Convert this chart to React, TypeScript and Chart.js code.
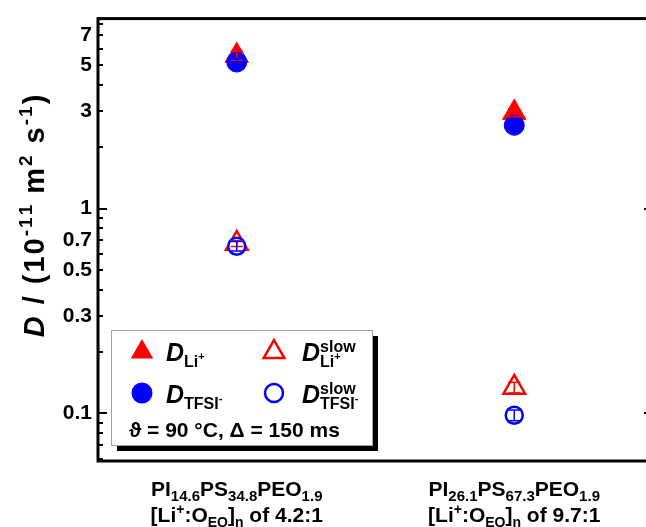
import React, { useEffect, useRef } from 'react';
import { Chart, registerables } from 'chart.js';

Chart.register(...registerables);

const FONT = '"Liberation Sans", Arial, Helvetica, sans-serif';
const RED = '#ff0000';
const BLUE = '#0000ff';

// Samples along the x axis
const categories = ['PI14.6PS34.8PEO1.9', 'PI26.1PS67.3PEO1.9'];

// Diffusion coefficients in 10^-11 m^2 s^-1 and their uncertainties
const dLiFast = [5.58, 2.94];
const dLiFastErr = [0.28, 0.13];
const dTfsiFast = [5.19, 2.55];
const dTfsiFastErr = [0.2, 0.1];
const dLiSlow = [0.675, 0.134];
const dLiSlowErr = [0.022, 0.008];
const dTfsiSlow = [0.655, 0.098];
const dTfsiSlowErr = [0.035, 0.006];

// Logarithmic y axis
const yMin = 0.0586;
const yMax = 8.46;
const yTickValues = [0.06, 0.07, 0.08, 0.09, 0.1, 0.2, 0.3, 0.4, 0.5, 0.6, 0.7, 0.8, 0.9, 1, 2, 3, 4, 5, 6, 7, 8];
const yMajorTicks = [0.1, 1];
const yLabeledTicks = [0.1, 0.3, 0.5, 0.7, 1, 3, 5, 7];
const yTickLabels = ['0.1', '0.3', '0.5', '0.7', '1', '3', '5', '7'];

type Seg = {
  t: string;
  size: number;
  dy?: number;
  italic?: boolean;
  mark?: boolean; // remember the pen position before this run
  back?: boolean; // return the pen to the remembered position
};

// Two-line sample labels below the axis (with subscripts / superscripts)
const xLabelLine1: Seg[][] = [
  [
    { t: 'PI', size: 21 }, { t: '14.6', size: 15, dy: 5 },
    { t: 'PS', size: 21 }, { t: '34.8', size: 15, dy: 5 },
    { t: 'PEO', size: 21 }, { t: '1.9', size: 15, dy: 5 },
  ],
  [
    { t: 'PI', size: 21 }, { t: '26.1', size: 15, dy: 5 },
    { t: 'PS', size: 21 }, { t: '67.3', size: 15, dy: 5 },
    { t: 'PEO', size: 21 }, { t: '1.9', size: 15, dy: 5 },
  ],
];
const xLabelLine2: Seg[][] = [
  [
    { t: '[Li', size: 21 }, { t: '+', size: 14, dy: -8 }, { t: ':O', size: 21 },
    { t: 'EO', size: 14, dy: 5 }, { t: ']', size: 21 }, { t: 'n', size: 14, dy: 5 },
    { t: ' of 4.2:1', size: 21 },
  ],
  [
    { t: '[Li', size: 21 }, { t: '+', size: 14, dy: -8 }, { t: ':O', size: 21 },
    { t: 'EO', size: 14, dy: 5 }, { t: ']', size: 21 }, { t: 'n', size: 14, dy: 5 },
    { t: ' of 9.7:1', size: 21 },
  ],
];

const yTitle: Seg[] = [
  { t: 'D', size: 29, italic: true },
  { t: ' / (10', size: 29 },
  { t: '-11', size: 19, dy: -12 },
  { t: ' m', size: 29 },
  { t: '2', size: 19, dy: -12 },
  { t: ' s', size: 29 },
  { t: '-1', size: 19, dy: -12 },
  { t: ')', size: 29 },
];

const legendLiFast: Seg[] = [
  { t: 'D', size: 25, italic: true },
  { t: 'Li', size: 16, dy: 6 },
  { t: '+', size: 11, dy: -1 },
];
const legendTfsiFast: Seg[] = [
  { t: 'D', size: 25, italic: true },
  { t: 'TFSI', size: 16, dy: 6 },
  { t: '-', size: 11, dy: -1 },
];
const legendLiSlow: Seg[] = [
  { t: 'D', size: 25, italic: true },
  { t: 'slow', size: 16, dy: -9, mark: true },
  { t: 'Li', size: 16, dy: 6, back: true },
  { t: '+', size: 11, dy: -1 },
];
const legendTfsiSlow: Seg[] = [
  { t: 'D', size: 25, italic: true },
  { t: 'slow', size: 16, dy: -9, mark: true },
  { t: 'TFSI', size: 16, dy: 6, back: true },
  { t: '-', size: 11, dy: -1 },
];
const legendConditions = 'ϑ = 90 °C, Δ = 150 ms';

function segFont(s: Seg) {
  return `${s.italic ? 'italic ' : ''}bold ${s.size}px ${FONT}`;
}

// width of a run, with optional extra tracking after every character
function runWidth(ctx: CanvasRenderingContext2D, t: string, ls: number) {
  return ctx.measureText(t).width + ls * t.length;
}

function layoutRich(ctx: CanvasRenderingContext2D, segs: Seg[], ls: number) {
  let x = 0;
  let saved = 0;
  let maxX = 0;
  const pos: number[] = [];
  for (const s of segs) {
    if (s.mark) saved = x;
    if (s.back) x = saved;
    ctx.font = segFont(s);
    pos.push(x);
    x += runWidth(ctx, s.t, ls);
    maxX = Math.max(maxX, x);
  }
  return { pos, width: maxX - ls };
}

function drawRich(
  ctx: CanvasRenderingContext2D,
  segs: Seg[],
  x: number,
  y: number,
  align: 'left' | 'center',
  ls = 0,
) {
  const { pos, width } = layoutRich(ctx, segs, ls);
  const x0 = align === 'center' ? x - width / 2 : x;
  ctx.textAlign = 'left';
  ctx.textBaseline = 'alphabetic';
  segs.forEach((s, i) => {
    ctx.font = segFont(s);
    if (ls === 0) {
      ctx.fillText(s.t, x0 + pos[i], y + (s.dy || 0));
      return;
    }
    let cx = x0 + pos[i];
    for (const ch of s.t) {
      ctx.fillText(ch, cx, y + (s.dy || 0));
      cx += ctx.measureText(ch).width + ls;
    }
  });
}

function drawTriangle(ctx: CanvasRenderingContext2D, x: number, y: number, r: number) {
  ctx.beginPath();
  ctx.moveTo(x, y - r);
  ctx.lineTo(x + Math.sin((2 * Math.PI) / 3) * r, y + 0.5 * r);
  ctx.lineTo(x - Math.sin((2 * Math.PI) / 3) * r, y + 0.5 * r);
  ctx.closePath();
}

const errorBarsPlugin = {
  id: 'errorBars',
  afterDatasetsDraw(chart: any) {
    const ctx: CanvasRenderingContext2D = chart.ctx;
    const yScale = chart.scales.y;
    ctx.save();
    chart.data.datasets.forEach((ds: any, i: number) => {
      if (!ds.errors) return;
      const meta = chart.getDatasetMeta(i);
      meta.data.forEach((el: any, j: number) => {
        const v = ds.data[j];
        const e = ds.errors[j];
        const yUp = yScale.getPixelForValue(v + e);
        const yLo = yScale.getPixelForValue(v - e);
        ctx.strokeStyle = ds.pointBorderColor;
        ctx.lineWidth = 1.5;
        ctx.beginPath();
        ctx.moveTo(el.x, yUp);
        ctx.lineTo(el.x, yLo);
        ctx.moveTo(el.x - 6, yUp);
        ctx.lineTo(el.x + 6, yUp);
        ctx.moveTo(el.x - 6, yLo);
        ctx.lineTo(el.x + 6, yLo);
        ctx.stroke();
      });
    });
    ctx.restore();
  },
};

const framePlugin = {
  id: 'frameAndLabels',
  afterDraw(chart: any) {
    const ctx: CanvasRenderingContext2D = chart.ctx;
    const { left, right, top, bottom } = chart.chartArea;
    const yScale = chart.scales.y;
    const xScale = chart.scales.x;
    ctx.save();

    // inward ticks on both vertical axes
    ctx.strokeStyle = '#000';
    ctx.lineWidth = 2;
    ctx.beginPath();
    for (const v of yTickValues) {
      const py = Math.round(yScale.getPixelForValue(v));
      const len = yMajorTicks.includes(v) ? 9 : 5;
      ctx.moveTo(left, py);
      ctx.lineTo(left + len, py);
      ctx.moveTo(right, py);
      ctx.lineTo(right - len, py);
    }
    ctx.stroke();

    // plot frame
    ctx.lineWidth = 3;
    ctx.strokeRect(left, top, right - left, bottom - top);

    // sample labels
    ctx.fillStyle = '#000';
    categories.forEach((_, i) => {
      const px = xScale.getPixelForValue(i);
      drawRich(ctx, xLabelLine1[i], px, 496, 'center');
      drawRich(ctx, xLabelLine2[i], px, 522, 'center');
    });

    // y axis title
    ctx.save();
    ctx.translate(44, 216);
    ctx.rotate(-Math.PI / 2);
    drawRich(ctx, yTitle, 0, 0, 'center', 2);
    ctx.restore();

    // legend box with a drop shadow
    const bx = 111, by = 330, bw = 261, bh = 115;
    ctx.fillStyle = '#000';
    ctx.fillRect(bx + 6, by + 6, bw, bh);
    ctx.fillStyle = '#fff';
    ctx.fillRect(bx, by, bw, bh);
    ctx.strokeStyle = '#a0a0a0';
    ctx.lineWidth = 1;
    ctx.strokeRect(bx + 0.5, by + 0.5, bw, bh);

    // legend symbols
    ctx.fillStyle = RED;
    drawTriangle(ctx, 142, 352, 13);
    ctx.fill();

    ctx.strokeStyle = RED;
    ctx.lineWidth = 2.5;
    drawTriangle(ctx, 274, 352, 12);
    ctx.stroke();

    ctx.fillStyle = BLUE;
    ctx.beginPath();
    ctx.arc(142, 393, 10.5, 0, Math.PI * 2);
    ctx.fill();

    ctx.strokeStyle = BLUE;
    ctx.lineWidth = 2.5;
    ctx.beginPath();
    ctx.arc(274, 393, 9, 0, Math.PI * 2);
    ctx.stroke();

    // legend text
    ctx.fillStyle = '#000';
    drawRich(ctx, legendLiFast, 166, 361, 'left');
    drawRich(ctx, legendLiSlow, 302, 361, 'left');
    drawRich(ctx, legendTfsiFast, 166, 403, 'left');
    drawRich(ctx, legendTfsiSlow, 302, 403, 'left');
    ctx.font = `bold 21px ${FONT}`;
    ctx.textAlign = 'left';
    ctx.fillText(legendConditions, 129, 437);

    ctx.restore();
  },
};

export default function App() {
  const canvasRef = useRef<HTMLCanvasElement | null>(null);

  useEffect(() => {
    const canvas = canvasRef.current;
    if (!canvas) return;
    const chart = new Chart(canvas, {
      type: 'line',
      data: {
        labels: categories,
        datasets: [
          {
            label: 'D Li+',
            data: dLiFast,
            errors: dLiFastErr,
            showLine: false,
            pointStyle: 'triangle',
            pointRadius: 13.5,
            pointBackgroundColor: RED,
            pointBorderColor: RED,
            pointBorderWidth: 1,
            order: 4,
          },
          {
            label: 'D TFSI-',
            data: dTfsiFast,
            errors: dTfsiFastErr,
            showLine: false,
            pointStyle: 'circle',
            pointRadius: 10,
            pointBackgroundColor: BLUE,
            pointBorderColor: BLUE,
            pointBorderWidth: 1,
            order: 3,
          },
          {
            label: 'D slow Li+',
            data: dLiSlow,
            errors: dLiSlowErr,
            showLine: false,
            pointStyle: 'triangle',
            pointRadius: 12.5,
            pointBackgroundColor: '#fff',
            pointBorderColor: RED,
            pointBorderWidth: 2.5,
            order: 2,
          },
          {
            label: 'D slow TFSI-',
            data: dTfsiSlow,
            errors: dTfsiSlowErr,
            showLine: false,
            pointStyle: 'circle',
            pointRadius: 8.5,
            pointBackgroundColor: '#fff',
            pointBorderColor: BLUE,
            pointBorderWidth: 2.5,
            order: 1,
          },
        ] as any,
      },
      options: {
        animation: false,
        responsive: false,
        devicePixelRatio: 1,
        layout: { autoPadding: false, padding: { top: 14, right: 7, left: 0, bottom: 0 } },
        plugins: {
          legend: { display: false },
          tooltip: { enabled: false },
        },
        scales: {
          x: {
            type: 'category',
            offset: true,
            grid: { display: false },
            border: { display: false },
            ticks: { display: false },
            afterFit: (s: any) => {
              s.height = 66;
            },
          },
          y: {
            type: 'logarithmic',
            min: yMin,
            max: yMax,
            grid: { display: false, drawTicks: false },
            border: { display: false },
            afterBuildTicks: (s: any) => {
              s.ticks = yTickValues.map((v) => ({ value: v }));
            },
            afterFit: (s: any) => {
              s.width = 98;
            },
            ticks: {
              autoSkip: false,
              padding: 6,
              color: '#000',
              font: { family: FONT, size: 21, weight: 'bold' },
              callback: (value: any) => {
                const idx = yLabeledTicks.findIndex((t) => Math.abs(t - Number(value)) < t * 1e-6);
                return idx >= 0 ? yTickLabels[idx] : null;
              },
            },
          },
        },
      } as any,
      plugins: [errorBarsPlugin, framePlugin],
    });
    return () => chart.destroy();
  }, []);

  return (
    <div
      style={{
        position: 'fixed',
        left: 0,
        top: 0,
        width: 646,
        height: 527,
        overflow: 'hidden',
        background: '#fff',
      }}
    >
      <canvas ref={canvasRef} width={660} height={527} style={{ display: 'block' }} />
    </div>
  );
}
